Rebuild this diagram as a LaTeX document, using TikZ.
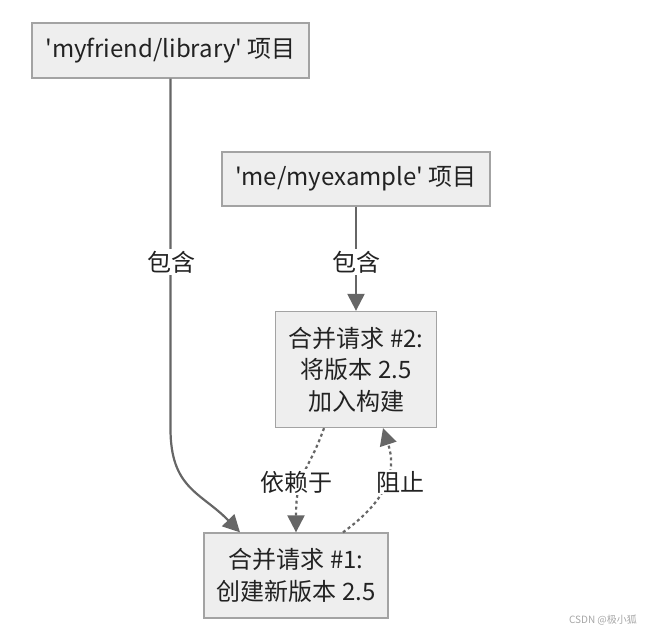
\documentclass[tikz,border=0pt]{standalone}
\usepackage{fontspec}
\newfontfamily\cjk{Noto Sans CJK SC}
\usetikzlibrary{arrows.meta,calc}
\definecolor{boxfill}{HTML}{EEEEEE}
\definecolor{boxline}{HTML}{A3A3A3}
\definecolor{edge}{HTML}{666666}
\definecolor{txt}{HTML}{222222}
\newcommand{\dnl}[1]{\raisebox{-3.5pt}{#1}}
\tikzset{
  box/.style={draw=boxline, fill=boxfill, line width=1.3pt, align=center, inner sep=0pt,
    text=txt, font=\cjk\fontsize{24}{31.5}\selectfont},
  lbl/.style={fill=white, inner sep=1.5pt, text=txt, font=\cjk\fontsize{24}{31}\selectfont},
  conn/.style={draw=edge, line width=2.2pt, -{Triangle[length=17pt,width=17pt]}},
  dotconn/.style={conn, dash pattern=on 3pt off 3pt},
}
\begin{document}
\begin{tikzpicture}[x=1pt,y=-1pt]
\useasboundingbox (0,0) rectangle (646,633);
\node[box, minimum width=277pt, minimum height=55pt] (b1) at (170.5,50.5) {\dnl{'myfriend/library' 项目}};
\node[box, minimum width=268pt, minimum height=54pt] (b2) at (356,179) {\dnl{'me/myexample' 项目}};
\node[box, minimum width=161pt, minimum height=116pt] (b3) at (356,369.5) {\dnl{合并请求 \#2:}\\\dnl{将版本 2.5}\\\dnl{加入构建}};
\node[box, minimum width=184pt, minimum height=85pt] (b4) at (296,575.5) {\dnl{合并请求 \#1:}\\\dnl{创建新版本 2.5}};

\draw[conn] (b1.south) -- ($(b1.south)+(0,350)$) .. controls ($(b1.south)+(0,410)$) and ($(b4.north)+(-95,-40)$) .. ($(b4.north)+(-56,0)$);
\draw[conn] (b2.south) -- (b3.north);
\draw[dotconn] ($(b3.south)+(-32,0)$) .. controls ($(b3.south)+(-48,45)$) and ($(b4.north)+(0,-60)$) .. (b4.north);
\draw[dotconn] ($(b4.north)+(47,0)$) .. controls ($(b4.north)+(95,-35)$) and ($(b3.south)+(40,40)$) .. ($(b3.south)+(27,0)$);

\node[lbl] (l1) at (171,262) {包含};
\node[lbl] (l2) at (356,262) {包含};
\node[lbl] (l3) at (296,482) {依赖于};
\node[lbl] (l4) at (400,482) {阻止};
\node[text=gray!70, font=\cjk\fontsize{10}{12}\selectfont] (wm) at (603,620) {CSDN @极小狐};
\end{tikzpicture}
\end{document}
